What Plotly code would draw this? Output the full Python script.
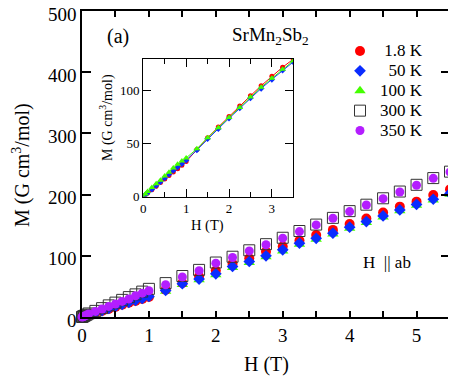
import plotly.graph_objects as go

# main panel: M vs H for several temperatures (H || ab)
H_main = [0, 0.01, 0.02, 0.03, 0.05, 0.07, 0.1, 0.2, 0.3, 0.4, 0.5, 0.6, 0.7, 0.8, 0.9, 1.0,
          1.25, 1.5, 1.75, 2.0, 2.25, 2.5, 2.75, 3.0, 3.25, 3.5, 3.75, 4.0, 4.25, 4.5, 4.75,
          5.0, 5.25, 5.5]
M_1p8K = [0, 0.3, 0.6, 1.0, 1.6, 2.3, 3.3, 6.5, 9.8, 13.2, 16.6, 19.9, 23.2, 26.3, 29.5, 32.6,
          44.5, 55.5, 66.2, 76, 87, 96, 107, 115, 125, 134, 142.3, 152, 160.8, 170.6, 180.3,
          188.5, 199.4, 208.7]
M_50K = [0, 0.35, 0.7, 1.1, 1.8, 2.5, 3.7, 7, 10.4, 13.9, 17.3, 20.7, 24, 27.2, 30.4, 33.6,
         43.4, 54.3, 62, 70.6, 82.5, 90.7, 100, 109.7, 120.6, 128.5, 137, 146.7, 156, 165.2, 175,
         184, 192.4, 202]
M_100K = [0, 0.5, 1.0, 1.5, 2.4, 3.4, 4.9, 8.5, 12, 15.5, 19.2, 22.8, 26.3, 29.8, 33.2, 36.4,
          42, 53, 60.8, 69, 81, 89, 98.5, 108, 119, 127, 135.5, 145, 154.5, 163.5, 173.5,
          182.5, 191, 200.5]
M_300K = [0, 0.6, 1.1, 1.7, 2.8, 3.9, 5.8, 10, 14.5, 19, 23.5, 28, 32.5, 37, 41.5, 46,
          55.4, 67, 77, 89, 98.5, 109, 119, 129.5, 140.5, 151, 162, 173, 183.5, 194, 205,
          216, 227, 237.5]
M_350K = [0, 0.4, 0.9, 1.3, 2.2, 3.1, 5, 9.1, 13, 17.3, 21.2, 25.5, 29.4, 34.7, 39, 42.9,
          52.7, 65.3, 75.5, 88, 97.2, 108, 118, 128.8, 139.6, 150.5, 161.4, 172.2, 183, 193.4,
          204.3, 215.2, 226.6, 237]

# inset
H_ins = [0, 0.05, 0.1, 0.2, 0.3, 0.4, 0.5, 0.6, 0.7, 0.8, 0.9, 1.0,
         1.25, 1.5, 1.75, 2.0, 2.25, 2.5, 2.75, 3.0, 3.25, 3.5]
Mi_1p8K = [0, 1.6, 3.3, 6.5, 9.8, 13.2, 16.6, 19.9, 23.2, 26.3, 29.5, 33,
           44.5, 55.5, 65.6, 75.6, 85.5, 95, 104.5, 113.5, 122, 129.5]
Mi_50K = [0, 1.8, 3.6, 7, 10.4, 13.9, 17.5, 21, 24.5, 27.8, 31, 34.3,
          44, 54.5, 64, 73.8, 83.5, 93, 102, 110.5, 119, 127]
Mi_100K = [0, 2.5, 4.9, 8.5, 12, 15.5, 19.5, 23, 27, 30.5, 33.5, 36.5,
           45, 55.5, 65, 74.5, 84, 94, 103, 111.5, 120, 128]

labels = ["\u20081.8 K", "\u200750 K", "100 K", "300 K", "350 K"]

RED = "#ff0000"
BLUE = "#0a2cff"
GREEN = "#44ff00"
PURPLE = "#b41eff"
FONT = "Liberation Serif, Times New Roman, serif"

# the page body adds an 8px margin, so the figure is made smaller and
# reference (window) pixel positions are shifted by OFF
OFF = 8
W, Hh = 448, 370
L, R, T, B = 74, 6, 3, 61


def px(x):
    return (x - OFF - L) / (W - L - R)


def py(y):
    return (Hh - B - (y - OFF)) / (Hh - T - B)


def lab(s):
    return "<span style='font-size:17px'>" + s + "</span>"


def fnt(size):
    return dict(family=FONT, size=size, color="black")


fig = go.Figure()

# drawing order: green, red, blue, squares, purple
fig.add_trace(go.Scatter(x=H_main, y=M_100K, mode="markers", name=lab(labels[2]), legendrank=3,
                         cliponaxis=False,
                         marker=dict(symbol="triangle-up", size=10, color=GREEN)))
fig.add_trace(go.Scatter(x=H_main, y=M_1p8K, mode="markers", name=lab(labels[0]), legendrank=1,
                         cliponaxis=False,
                         marker=dict(symbol="circle", size=10, color=RED)))
fig.add_trace(go.Scatter(x=H_main, y=M_50K, mode="markers", name=lab(labels[1]), legendrank=2,
                         cliponaxis=False,
                         marker=dict(symbol="diamond", size=9, color=BLUE)))
fig.add_trace(go.Scatter(x=H_main, y=M_300K, mode="markers", name=lab(labels[3]), legendrank=4,
                         cliponaxis=False,
                         marker=dict(symbol="square-open", size=11, color="#333333",
                                     line=dict(width=1))))
fig.add_trace(go.Scatter(x=H_main, y=M_350K, mode="markers", name=lab(labels[4]), legendrank=5,
                         cliponaxis=False,
                         marker=dict(symbol="circle", size=9, color=PURPLE)))

# inset traces
fig.add_trace(go.Scatter(x=H_ins, y=Mi_1p8K, mode="lines+markers", xaxis="x2", yaxis="y2",
                         showlegend=False, line=dict(color=RED, width=1),
                         marker=dict(symbol="circle", size=5, color=RED)))
fig.add_trace(go.Scatter(x=H_ins, y=Mi_50K, mode="lines+markers", xaxis="x2", yaxis="y2",
                         showlegend=False, line=dict(color=BLUE, width=1),
                         marker=dict(symbol="diamond", size=5, color=BLUE)))
fig.add_trace(go.Scatter(x=H_ins, y=Mi_100K, mode="lines+markers", xaxis="x2", yaxis="y2",
                         showlegend=False, line=dict(color=GREEN, width=1),
                         marker=dict(symbol="triangle-up", size=6, color=GREEN)))

axis_common = dict(showgrid=False, zeroline=False, showline=True, linecolor="black",
                   ticks="inside", tickcolor="black", mirror="allticks",
                   ticklabeloverflow="allow")

fig.update_layout(
    width=W, height=Hh,
    margin=dict(l=L, r=R, t=T, b=B, autoexpand=False),
    paper_bgcolor="white", plot_bgcolor="white",
    font=fnt(19),
    xaxis=dict(range=[0, 5.5], dtick=1, ticklen=6, tickwidth=1.5, linewidth=1.5,
               minor=dict(dtick=0.5, ticks="inside", ticklen=6, tickwidth=1.5, tickcolor="black"),
               tickfont=fnt(19), **axis_common),
    # labels nudged down a little so the top one stays inside the page
    yaxis=dict(range=[0, 500], dtick=100, ticklen=9, tickwidth=1.5, linewidth=1.5,
               tickfont=fnt(19), ticklabelshift=3, **axis_common),
    xaxis2=dict(domain=[px(143.3), px(293.3)], anchor="y2", range=[0, 3.5], dtick=1,
                ticklen=8, tickwidth=1.2, linewidth=1.2,
                minor=dict(dtick=0.5, ticks="inside", ticklen=5, tickwidth=1.2, tickcolor="black"),
                tickfont=fnt(13), **axis_common),
    yaxis2=dict(domain=[py(196.6), py(58.7)], anchor="x2", range=[0, 130], dtick=50,
                ticklen=8, tickwidth=1.2, linewidth=1.2,
                tickfont=fnt(13), **axis_common),
    legend=dict(x=px(340), y=py(36), xanchor="left", yanchor="top",
                font=fnt(13), bgcolor="rgba(0,0,0,0)",
                itemwidth=30, tracegroupgap=0),
    showlegend=True,
)

annos = [
    dict(x=px(266), y=py(365), text="H (T)", font=fnt(20)),
    dict(x=px(21), y=py(165), text="M (G cm<sup>3</sup>/mol)", textangle=-90, font=fnt(20)),
    dict(x=px(207), y=py(225), text="H (T)", font=fnt(14.5)),
    dict(x=px(106), y=py(118), text="M (G cm<sup>3</sup>/mol)", textangle=-90, font=fnt(14)),
    dict(x=px(118), y=py(36), text="(a)", font=fnt(20)),
    dict(x=px(270), y=py(36), text="SrMn<sub>2</sub>Sb<sub>2</sub>", font=fnt(19)),
    dict(x=px(387), y=py(262), text="H  || ab", font=fnt(17)),
]
for a in annos:
    fig.add_annotation(xref="paper", yref="paper", showarrow=False, xanchor="center",
                       yanchor="middle", **a)

fig.write_html("out.html")
